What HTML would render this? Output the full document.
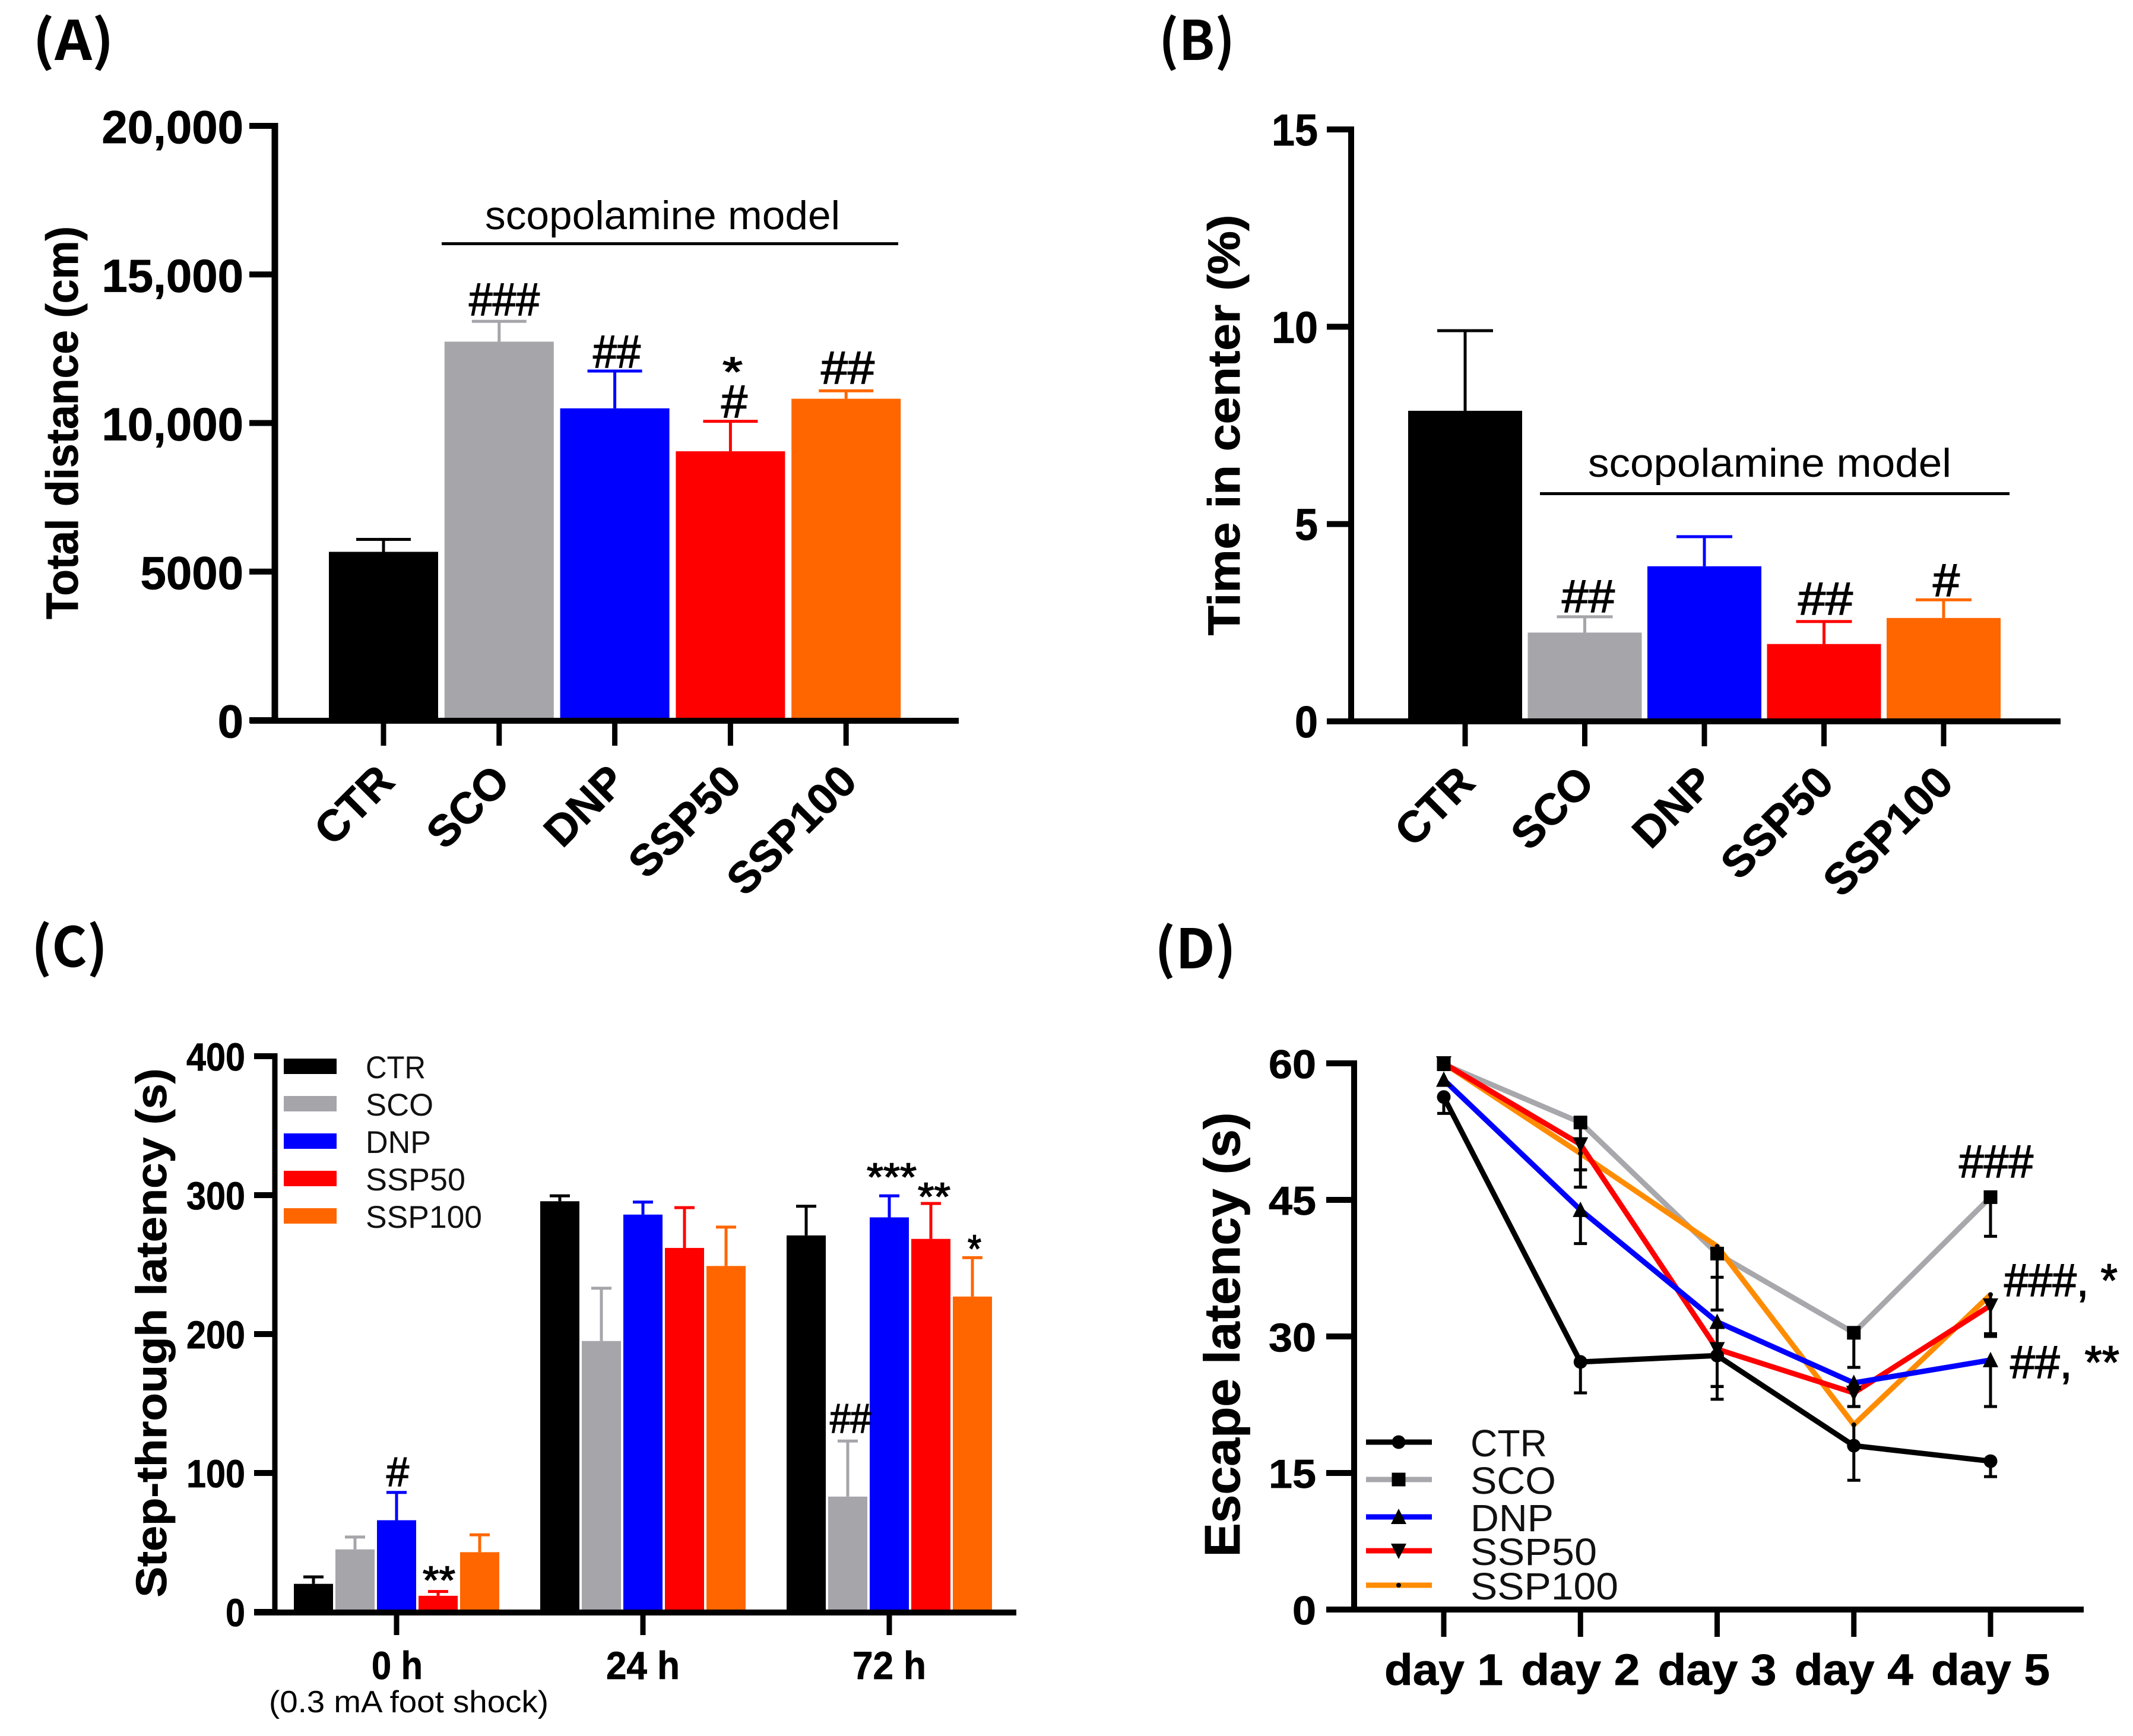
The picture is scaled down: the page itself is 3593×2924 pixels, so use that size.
<!DOCTYPE html>
<html lang="en">
<head>
<meta charset="utf-8">
<title>Behavioural test results</title>
<style>
html,body{margin:0;padding:0;background:#fff;}
svg{display:block;font-family:"Liberation Sans",sans-serif;}
.panel{font-family:"Noto Sans CJK KR","Liberation Sans",sans-serif;font-weight:700;font-size:92px;}
.b{font-weight:700;stroke:#000;stroke-width:0.8px;}
.note{font-size:78px;fill:#000;stroke:#000;stroke-width:1.6px;}
</style>
</head>
<body>
<svg id="figure" xmlns="http://www.w3.org/2000/svg" width="3593" height="2924" viewBox="0 0 3593 2924">
<rect width="3593" height="2924" fill="#fff"/>

<text class="panel" x="55" y="101" textLength="137" lengthAdjust="spacingAndGlyphs">(A)</text>
<text class="panel" x="1952" y="101" textLength="128" lengthAdjust="spacingAndGlyphs">(B)</text>
<text class="panel" x="53" y="1628" textLength="128" lengthAdjust="spacingAndGlyphs">(C)</text>
<text class="panel" x="1945" y="1631" textLength="137" lengthAdjust="spacingAndGlyphs">(D)</text>

<g id="chart-a"></g>
<g id="chart-b"></g>
<g id="chart-c"></g>
<g id="chart-d"></g>

<!-- Panel A titles and annotations -->
<text class="b" font-size="76" text-anchor="middle" textLength="662" lengthAdjust="spacingAndGlyphs" transform="translate(131,712) rotate(-90)">Total distance (cm)</text>
<text font-size="68" x="817" y="386" textLength="598" lengthAdjust="spacingAndGlyphs">scopolamine model</text>
<rect x="744" y="408" width="769" height="5" fill="#000"/>
<text class="note" x="790" y="531" textLength="119" lengthAdjust="spacingAndGlyphs">###</text>
<text class="note" x="999" y="619" textLength="80" lengthAdjust="spacingAndGlyphs">##</text>
<text class="note" x="1217" y="650" style="font-size:70px" textLength="34" lengthAdjust="spacingAndGlyphs">*</text>
<text class="note" x="1215" y="703" textLength="44" lengthAdjust="spacingAndGlyphs">#</text>
<text class="note" x="1383" y="646" textLength="90" lengthAdjust="spacingAndGlyphs">##</text>

<!-- Panel B titles and annotations -->
<text class="b" font-size="76" text-anchor="middle" textLength="709" lengthAdjust="spacingAndGlyphs" transform="translate(2088,716) rotate(-90)">Time in center (%)</text>
<text font-size="68" x="2675" y="803" textLength="612" lengthAdjust="spacingAndGlyphs">scopolamine model</text>
<rect x="2594" y="829" width="791" height="5" fill="#000"/>
<text class="note" x="2631" y="1031" textLength="89" lengthAdjust="spacingAndGlyphs">##</text>
<text class="note" x="3029" y="1035" textLength="92" lengthAdjust="spacingAndGlyphs">##</text>
<text class="note" x="3256" y="1004" textLength="45" lengthAdjust="spacingAndGlyphs">#</text>

<!-- Panel C titles and annotations -->
<text class="b" font-size="72" text-anchor="middle" textLength="891" lengthAdjust="spacingAndGlyphs" transform="translate(280,2245) rotate(-90)">Step-through latency (s)</text>
<text font-size="52" x="453" y="2884" textLength="471" lengthAdjust="spacingAndGlyphs">(0.3 mA foot shock)</text>
<text class="note" x="651" y="2503" style="font-size:70px" textLength="38" lengthAdjust="spacingAndGlyphs">#</text>
<text class="note" x="712" y="2684" style="font-size:66px" textLength="55" lengthAdjust="spacingAndGlyphs">**</text>
<text class="note" x="1398" y="2413" style="font-size:70px" textLength="69" lengthAdjust="spacingAndGlyphs">##</text>
<text class="note" x="1460" y="2005" style="font-size:66px" textLength="84" lengthAdjust="spacingAndGlyphs">***</text>
<text class="note" x="1546" y="2038" style="font-size:66px" textLength="55" lengthAdjust="spacingAndGlyphs">**</text>
<text class="note" x="1630" y="2126" style="font-size:66px" textLength="23" lengthAdjust="spacingAndGlyphs">*</text>

<!-- Panel D titles and annotations -->
<text class="b" font-size="84" text-anchor="middle" textLength="749" lengthAdjust="spacingAndGlyphs" transform="translate(2088,2248) rotate(-90)">Escape latency (s)</text>
<text class="note" x="3300" y="1983" textLength="125" lengthAdjust="spacingAndGlyphs">###</text>
<text class="note" x="3376" y="2183" textLength="191" lengthAdjust="spacingAndGlyphs">###, *</text>
<text class="note" x="3386" y="2321" textLength="184" lengthAdjust="spacingAndGlyphs">##, **</text>
</svg>

<script>
// ---------- Panel A data ----------
var aCategories = ['CTR', 'SCO', 'DNP', 'SSP50', 'SSP100'];
var aValues = [5665, 12738, 10494, 9049, 10817];
var aErrors = [418, 684, 1255, 1008, 267];
var aTickValues = [0, 5000, 10000, 15000, 20000];
var aTickLabels = ['0', '5000', '10,000', '15,000', '20,000'];

// ---------- Panel B data ----------
var bCategories = ['CTR', 'SCO', 'DNP', 'SSP50', 'SSP100'];
var bValues = [7.87, 2.25, 3.93, 1.96, 2.62];
var bErrors = [2.03, 0.40, 0.75, 0.57, 0.46];
var bTickValues = [0, 5, 10, 15];
var bTickLabels = ['0', '5', '10', '15'];

// ---------- Panel C data ----------
var cGroups = ['0 h', '24 h', '72 h'];
var cSeriesNames = ['CTR', 'SCO', 'DNP', 'SSP50', 'SSP100'];
var cCtrValues = [20.2, 295.6, 271];
var cScoValues = [45, 195, 83];
var cDnpValues = [66, 286, 284];
var cSsp50Values = [11.6, 262, 268.5];
var cSsp100Values = [43, 249, 227];
var cCtrErrors = [5, 3.9, 21];
var cScoErrors = [8.9, 38, 40];
var cDnpErrors = [20, 9, 15.5];
var cSsp50Errors = [3.1, 29, 25.5];
var cSsp100Errors = [12.5, 28, 28];
var cTickValues = [0, 100, 200, 300, 400];
var cTickLabels = ['0', '100', '200', '300', '400'];

// ---------- Panel D data ----------
var dDays = ['day 1', 'day 2', 'day 3', 'day 4', 'day 5'];
var dSeriesNames = ['CTR', 'SCO', 'DNP', 'SSP50', 'SSP100'];
var dCtrValues = [56.3, 27.2, 27.9, 18.0, 16.3];
var dScoValues = [59.9, 53.5, 39.1, 30.4, 45.3];
var dDnpValues = [58.2, 43.9, 31.6, 24.9, 27.4];
var dSsp50Values = [60, 51.1, 28.6, 23.8, 33.4];
var dSsp100Values = [60, 50.1, 39.9, 20.3, 34.6];
var dCtrErrors = [1.8, 3.4, 4.8, 3.8, 1.7];
var dScoErrors = [0, 5.2, 6.2, 3.8, 4.3];
var dDnpErrors = [0, 3.7, 7.1, 2.6, 5.1];
var dSsp50Errors = [0, 4.7, 4.1, 1.5, 3.4];
var dSsp100Errors = [0, 1.8, 3.4, 2.3, 4.3];
var dTickValues = [0, 15, 30, 45, 60];
var dTickLabels = ['0', '15', '30', '45', '60'];

var SVGNS = 'http://www.w3.org/2000/svg';
var barColors = ['#000000', '#a5a5aa', '#0000ff', '#ff0000', '#ff6600'];
var lineColors = ['#000000', '#a8a8ac', '#0000ff', '#ff0000', '#ff8c00'];

function make(tag, attrs, parent) {
  var n = document.createElementNS(SVGNS, tag);
  for (var k in attrs) { n.setAttribute(k, attrs[k]); }
  parent.appendChild(n);
  return n;
}
function slug(s) { return s.toLowerCase().replace(/[^a-z0-9]+/g, '-'); }

function drawYAxis(g, prefix, opt, tickValues, tickLabels) {
  var axis = make('rect', {x: opt.x - opt.w / 2, y: opt.scale(opt.max) - 5, width: opt.w, height: opt.scale(0) - opt.scale(opt.max) + 10, fill: '#000'}, g);
  
  
  tickValues.forEach(function (v, i) {
    var t = make('rect', {x: opt.x - opt.tick, y: opt.scale(v) - 5, width: opt.tick, height: 10, fill: '#000'}, g);
    
    
    var l = make('text', {x: opt.labelX, y: opt.scale(v) + opt.base, 'font-size': opt.font, 'font-weight': 700, 'text-anchor': 'end', stroke: '#000', 'stroke-width': 0.8}, g);
    l.textContent = tickLabels[i];
    
    
    if (opt.charW) {
      l.setAttribute('textLength', opt.charW * tickLabels[i].length);
      l.setAttribute('lengthAdjust', 'spacingAndGlyphs');
    }
  });
}
function drawXAxisLine(g, prefix, x0, x1, y) {
  var a = make('rect', {x: x0, y: y - 5, width: x1 - x0, height: 10, fill: '#000'}, g);
  
  
}
function drawXTick(g, prefix, x, y, len) {
  var t = make('rect', {x: x - 4.5, y: y, width: 9, height: len, fill: '#000'}, g);
  
  
}
function drawBar(g, name, cx, width, top, bottom, color, errTop, capW) {
  var e = make('rect', {x: cx - 2.5, y: errTop, width: 5, height: top - errTop, fill: color}, g);
  
  
  var c = make('rect', {x: cx - capW / 2, y: errTop - 2.5, width: capW, height: 5, fill: color}, g);
  
  
  var b = make('rect', {x: cx - width / 2, y: top, width: width, height: bottom - top, fill: color}, g);
  
  
}
function drawRotatedLabel(g, prefix, text, x, y) {
  var l = make('text', {'font-size': 74, 'font-weight': 700, 'text-anchor': 'end', stroke: '#000', 'stroke-width': 0.8, transform: 'translate(' + x + ',' + y + ') rotate(-45)'}, g);
  l.textContent = text;
  
  
}

// ---------- Panel A ----------
(function () {
  var g = document.getElementById('chart-a');
  var y = function (v) { return 1213 - v * (1001 / 20000); };
  var x = function (i) { return 646 + i * 194.8; };
  aCategories.forEach(function (c, i) {
    drawBar(g, 'a-bar-' + slug(c), x(i), 184, y(aValues[i]), 1211, barColors[i], y(aValues[i] + aErrors[i]), 92);
    drawXTick(g, 'a', x(i), 1214, 42);
    drawRotatedLabel(g, 'a', c, x(i) + 22, 1320);
  });
  drawYAxis(g, 'a', {x: 463, w: 11, tick: 43, max: 20000, scale: y, labelX: 410, base: 29, font: 78}, aTickValues, aTickLabels);
  drawXAxisLine(g, 'a', 421, 1615, 1214);
})();

// ---------- Panel B ----------
(function () {
  var g = document.getElementById('chart-b');
  var y = function (v) { return 1215 - v * (997 / 15); };
  var x = function (i) { return 2468 + i * 201.5; };
  bCategories.forEach(function (c, i) {
    drawBar(g, 'b-bar-' + slug(c), x(i), 192, y(bValues[i]), 1213, barColors[i], y(bValues[i] + bErrors[i]), 94);
    drawXTick(g, 'b', x(i), 1215, 42);
    drawRotatedLabel(g, 'b', c, x(i) + 20, 1322);
  });
  drawYAxis(g, 'b', {x: 2276, w: 10, tick: 41, max: 15, scale: y, labelX: 2220, base: 27, font: 75, charW: 39}, bTickValues, bTickLabels);
  drawXAxisLine(g, 'b', 2236, 3471, 1215);
})();

// ---------- Panel C ----------
(function () {
  var g = document.getElementById('chart-c');
  var y = function (v) { return 2715 - v * (936 / 400); };
  var gx = function (j) { return 668 + j * 415; };
  var sx = function (j, s) { return gx(j) + (s - 2) * 70; };
  var valueSets = [cCtrValues, cScoValues, cDnpValues, cSsp50Values, cSsp100Values];
  var errorSets = [cCtrErrors, cScoErrors, cDnpErrors, cSsp50Errors, cSsp100Errors];
  cGroups.forEach(function (name, j) {
    cSeriesNames.forEach(function (s, i) {
      var v = valueSets[i][j];
      drawBar(g, 'c-bar-' + slug(name) + '-' + slug(s), sx(j, i), 66, y(v), 2712, barColors[i], y(v + errorSets[i][j]), 34);
    });
    drawXTick(g, 'c', gx(j), 2716, 38);
    var l = make('text', {x: gx(j) + (j === 0 ? 1 : 0), y: 2828, 'font-size': 66, 'font-weight': 700, 'text-anchor': 'middle', stroke: '#000', 'stroke-width': 0.8, textLength: j === 0 ? 86 : 124, lengthAdjust: 'spacingAndGlyphs'}, g);
    l.textContent = name;
    
    
  });
  drawYAxis(g, 'c', {x: 463, w: 9, tick: 35, max: 400, scale: y, labelX: 413, base: 24, font: 66, charW: 33}, cTickValues, cTickLabels);
  drawXAxisLine(g, 'c', 428, 1712, 2716);
  // Legend rows follow the fixed row order of the reference.
  cSeriesNames.forEach(function (s, i) {
    var rowY = 1796 + i * 63;
    var k = make('rect', {x: 478, y: rowY - 13, width: 89, height: 26, fill: barColors[i]}, g);
    
    
    var t = make('text', {x: 616, y: rowY + 20, 'font-size': 53, fill: '#111', textLength: [101, 114, 110, 168, 196][i], lengthAdjust: 'spacingAndGlyphs'}, g);
    t.textContent = s;
    
    
  });
})();

// ---------- Panel D ----------
(function () {
  var g = document.getElementById('chart-d');
  var y = function (v) { return 2711 - v * (920 / 60); };
  var x = function (i) { return 2432 + i * 230.25; };
  var valueSets = [dCtrValues, dScoValues, dDnpValues, dSsp50Values, dSsp100Values];
  var errorSets = [dCtrErrors, dScoErrors, dDnpErrors, dSsp50Errors, dSsp100Errors];
  var lineOrder = [1, 4, 3, 2, 0];

  function marker(kind, cx, cy, parent) {
    if (kind === 0) { return make('circle', {cx: cx, cy: cy, r: 11.5, fill: '#000'}, parent); }
    if (kind === 1) { return make('rect', {x: cx - 11.5, y: cy - 11.5, width: 23, height: 23, fill: '#000'}, parent); }
    if (kind === 2) { return make('polygon', {points: (cx - 13) + ',' + (cy + 12) + ' ' + (cx + 13) + ',' + (cy + 12) + ' ' + cx + ',' + (cy - 14), fill: '#000'}, parent); }
    if (kind === 3) { return make('polygon', {points: (cx - 13) + ',' + (cy - 12) + ' ' + (cx + 13) + ',' + (cy - 12) + ' ' + cx + ',' + (cy + 14), fill: '#000'}, parent); }
    return make('circle', {cx: cx, cy: cy, r: 4, fill: '#000'}, parent);
  }

  lineOrder.forEach(function (s) {
    var pts = valueSets[s].map(function (v, i) { return x(i) + ',' + y(v); }).join(' ');
    var p = make('polyline', {points: pts, fill: 'none', stroke: lineColors[s], 'stroke-width': 9, 'stroke-linejoin': 'miter'}, g);
    
    
  });
  valueSets.forEach(function (vals, s) {
    vals.forEach(function (v, i) {
      var err = errorSets[s][i];
      if (err > 0) {
        var e = make('rect', {x: x(i) - 2.5, y: y(v), width: 5, height: y(v - err) - y(v), fill: '#000'}, g);
        
        
        var c = make('rect', {x: x(i) - 11, y: y(v - err) - 2.5, width: 22, height: 5, fill: '#000'}, g);
        
        
      }
      var m = marker(s, x(i), y(v), g);
      
      
    });
  });
  dDays.forEach(function (d, i) {
    drawXTick(g, 'd', x(i), 2711, 46);
    var l = make('text', {x: x(i), y: 2838, 'font-size': 74, 'font-weight': 700, 'text-anchor': 'middle', stroke: '#000', 'stroke-width': 0.8, textLength: 200, lengthAdjust: 'spacingAndGlyphs'}, g);
    l.textContent = d;
    
    
  });
  drawYAxis(g, 'd', {x: 2281, w: 10, tick: 47, max: 60, scale: y, labelX: 2217, base: 25, font: 68, charW: 40}, dTickValues, dTickLabels);
  drawXAxisLine(g, 'd', 2236, 3510, 2711);
  var rowYs = [2429, 2492, 2555, 2612, 2670];
  dSeriesNames.forEach(function (s, i) {
    var k = make('rect', {x: 2301, y: rowYs[i] - 4.5, width: 111, height: 9, fill: lineColors[i]}, g);
    
    
    var m = marker(i, 2356, rowYs[i], g);
    
    
    var t = make('text', {x: 2477, y: rowYs[i] + 24, 'font-size': 64, fill: '#111', textLength: [129, 144, 140, 213, 249][i], lengthAdjust: 'spacingAndGlyphs'}, g);
    t.textContent = s;
    
    
  });
})();
</script>
</body>
</html>
